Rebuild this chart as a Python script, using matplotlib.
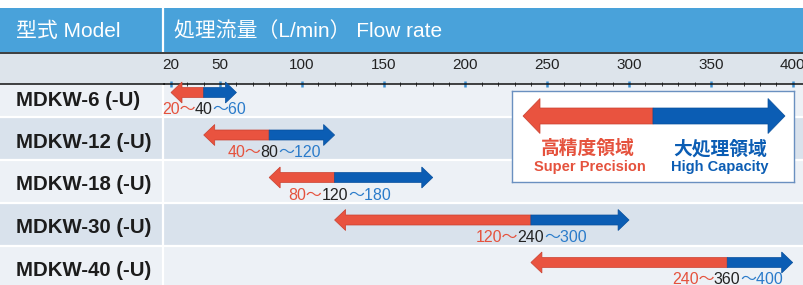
import matplotlib
matplotlib.use("Agg")
import matplotlib.pyplot as plt
from matplotlib.patches import Polygon, Rectangle
from matplotlib.ticker import MultipleLocator

plt.rcParams['font.family'] = ['Liberation Sans', 'Noto Sans CJK JP']

# ---------------- data ----------------
models = ["MDKW-6 (-U)", "MDKW-12 (-U)", "MDKW-18 (-U)", "MDKW-30 (-U)", "MDKW-40 (-U)"]
low = [20, 40, 80, 120, 240]     # super precision start
mid = [40, 80, 120, 240, 360]    # boundary
high = [60, 120, 180, 300, 400]  # high capacity end
major_ticks = [20, 50, 100, 150, 200, 250, 300, 350, 400]
minor_step = 10
header_left = "型式 Model"
header_right = "処理流量（L/min） Flow rate"
legend_left = ("高精度領域", "Super Precision")
legend_right = ("大処理領域", "High Capacity")

# ---------------- style ----------------
HEADER = '#49a2da'
TICKBAND = '#dde4eb'
ROW_L = '#edf1f6'
ROW_D = '#d9e2ec'
RED = '#e9533f'
BLUE = '#0b5db4'
LRED = '#e5523d'
LBLUE = '#2a7bca'
DARK = '#1c1c1c'

W, H = 804, 285
fig = plt.figure(figsize=(W / 100, H / 100), dpi=100)

# background / table axes in pixel units
bg = fig.add_axes([0, 0, 1, 1])
bg.set_xlim(0, W)
bg.set_ylim(H, 0)
bg.axis('off')

bg.add_patch(Rectangle((0, 8), W, 44, color=HEADER, lw=0))
bg.add_patch(Rectangle((0, 52), W, 32, color=TICKBAND, lw=0))

row_pitch = 43.0
first_sep = 117.0
tops = [84.0] + [first_sep + row_pitch * i for i in range(len(models) - 1)]
bots = tops[1:] + [H + 5]
for i, (t, b) in enumerate(zip(tops, bots)):
    bg.add_patch(Rectangle((0, t), W, b - t, color=ROW_L if i % 2 == 0 else ROW_D, lw=0))
bg.hlines(tops[1:], 0, W, color='white', lw=1.6)
bg.vlines(163.5, 8, 52, color='white', lw=1.6)
bg.vlines(163.5, 84.5, H, color='white', lw=1.6)
bg.plot([0, W], [52.5, 52.5], color='#111', lw=1.1, solid_capstyle='butt')
bg.plot([0, 165], [84, 84], color='#111', lw=1.1, solid_capstyle='butt')

bg.text(16, 31, header_left, color='white', fontsize=15, va='center', ha='left')
bg.text(174, 31, header_right, color='white', fontsize=15, va='center', ha='left')

centers = [100 + 42.5 * i for i in range(len(models))]
for m, c in zip(models, centers):
    bg.text(16, c, m, color=DARK, fontsize=14.7, fontweight='bold', va='center', ha='left')

# ---------------- data axes ----------------
k = 1.636  # pixels per L/min
X0 = 20 - (171 - 164) / k
X1 = X0 + (W - 164) / k
ax = fig.add_axes([164 / W, 0, (W - 164) / W, 1])
ax.set_facecolor('none')
ax.set_xlim(X0, X1)
ax.set_ylim(H, 0)
for s in ['left', 'right', 'bottom']:
    ax.spines[s].set_visible(False)
ax.xaxis.tick_top()
ax.spines['top'].set_position(('data', 84))
ax.spines['top'].set_color('#111')
ax.spines['top'].set_linewidth(1.1)
ax.set_xticks(major_ticks)
ax.set_xticklabels([str(t) for t in major_ticks])
ax.xaxis.set_minor_locator(MultipleLocator(minor_step))
ax.tick_params(axis='x', which='major', direction='inout', length=4.5, width=1.8,
               color='#3c90d2', labelsize=11, labelcolor='#222', pad=6.5)
ax.tick_params(axis='x', which='minor', direction='inout', length=3.2, width=0.6,
               color='#222')
ax.set_yticks([])


def draw_arrow(axis, lo, md, hi, yc, sh, hh, hl, ec_r='#c9402f', ec_b='#084f9c'):
    left = [(lo, yc), (lo + hl, yc - hh), (lo + hl, yc - sh), (md, yc - sh),
            (md, yc + sh), (lo + hl, yc + sh), (lo + hl, yc + hh)]
    right = [(hi, yc), (hi - hl, yc - hh), (hi - hl, yc - sh), (md, yc - sh),
             (md, yc + sh), (hi - hl, yc + sh), (hi - hl, yc + hh)]
    axis.add_patch(Polygon(left, closed=True, facecolor=RED, edgecolor=ec_r, lw=0.5, zorder=3))
    axis.add_patch(Polygon(right, closed=True, facecolor=BLUE, edgecolor=ec_b, lw=0.5, zorder=3))


for lo, md, hi, c in zip(low, mid, high, centers):
    draw_arrow(ax, lo, md, hi, c - 7.5, 5.0, 10.5, 11 / k)

label_fs = 11.5
base_off = 14.5
mids = []
for md, c in zip(mid, centers):
    t = ax.text(md, c + base_off, str(md), color='#222', fontsize=label_fs,
                ha='center', va='baseline', zorder=4)
    mids.append(t)

fig.canvas.draw()
renderer = fig.canvas.get_renderer()
inv = ax.transData.inverted()
shift = 0.8 / k
for t, lo, hi, c in zip(mids, low, high, centers):
    bb = t.get_window_extent(renderer)
    xa = inv.transform((bb.x0, 0))[0]
    xb = inv.transform((bb.x1, 0))[0]
    ax.text(xa + shift, c + base_off, f"{lo}〜", color=LRED, fontsize=label_fs,
            ha='right', va='baseline', zorder=4)
    ax.text(xb, c + base_off, f"〜{hi}", color=LBLUE, fontsize=label_fs,
            ha='left', va='baseline', zorder=4)

# ---------------- legend box ----------------
lx0, ly0, lx1, ly1 = 512, 91, 794, 182
leg = fig.add_axes([lx0 / W, (H - ly1) / H, (lx1 - lx0) / W, (ly1 - ly0) / H])
leg.set_xlim(0, lx1 - lx0)
leg.set_ylim(ly1 - ly0, 0)
leg.set_facecolor('white')
leg.set_xticks([])
leg.set_yticks([])
for s in leg.spines.values():
    s.set_color('#6a90c0')
    s.set_linewidth(1.0)
draw_arrow(leg, 11, 141, 273, 25, 8, 17.5, 17)
leg.text(76, 58, legend_left[0], color=LRED, fontsize=13.5, fontweight='bold', ha='center', va='center')
leg.text(78, 76, legend_left[1], color=LRED, fontsize=10.5, fontweight='bold', ha='center', va='center')
leg.text(208, 58, legend_right[0], color=BLUE, fontsize=13.5, fontweight='bold', ha='center', va='center')
leg.text(208, 76, legend_right[1], color=BLUE, fontsize=10.5, fontweight='bold', ha='center', va='center')

fig.savefig('out.png', dpi=100)
